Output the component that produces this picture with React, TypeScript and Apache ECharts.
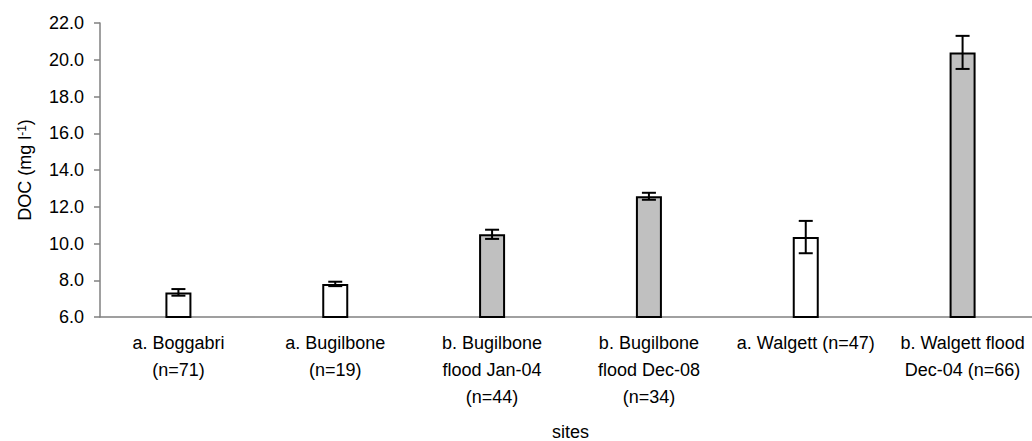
import React, { useEffect, useRef } from "react";
import * as echarts from "echarts";

const categories = [
  "a. Boggabri\n(n=71)",
  "a. Bugilbone\n(n=19)",
  "b. Bugilbone\nflood Jan-04\n(n=44)",
  "b. Bugilbone\nflood Dec-08\n(n=34)",
  "a. Walgett (n=47)",
  "b. Walgett flood\nDec-04 (n=66)",
];
const meanDOC = [7.34, 7.8, 10.5, 12.57, 10.35, 20.4];
const errDOC = [0.18, 0.12, 0.25, 0.19, 0.88, 0.9];
const isFlood = [false, false, true, true, false, true];

export default function App() {
  const ref = useRef<HTMLDivElement>(null);
  useEffect(() => {
    if (!ref.current) return;
    const chart = echarts.init(ref.current, undefined, { renderer: "svg" });
    const font = "'Liberation Sans', Arial, sans-serif";
    chart.setOption({
      animation: false,
      backgroundColor: "#ffffff",
      textStyle: { fontFamily: font, color: "#000" },
      grid: {
        left: 100,
        top: 23,
        width: 941,
        height: 294,
        containLabel: false,
        outerBoundsMode: "none",
      },
      xAxis: {
        type: "category",
        data: categories,
        name: "sites",
        nameLocation: "middle",
        nameGap: 106,
        nameTextStyle: { fontSize: 18, color: "#000", fontFamily: font },
        axisLine: { lineStyle: { color: "#808080", width: 1.5 } },
        axisTick: { length: 5, lineStyle: { color: "#808080", width: 1.5 } },
        axisLabel: {
          interval: 0,
          fontSize: 18,
          lineHeight: 27,
          margin: 12,
          color: "#000",
          fontFamily: font,
        },
      },
      yAxis: {
        type: "value",
        min: 6,
        max: 22,
        interval: 2,
        name: "DOC (mg l{sup|-1})",
        nameLocation: "middle",
        nameGap: 66,
        nameTextStyle: {
          fontSize: 18,
          color: "#000",
          fontFamily: font,
          rich: {
            sup: { fontSize: 12, verticalAlign: "top", color: "#000", fontFamily: font },
          },
        },
        splitLine: { show: false },
        axisLine: { show: true, lineStyle: { color: "#808080", width: 1.5 } },
        axisTick: { show: true, length: 6, lineStyle: { color: "#808080", width: 1.5 } },
        axisLabel: {
          fontSize: 18,
          margin: 16,
          color: "#000",
          fontFamily: font,
          formatter: (v: number) => v.toFixed(1),
        },
      },
      series: [
        {
          type: "bar",
          barWidth: 26,
          data: meanDOC.map((v, i) => ({
            value: v,
            itemStyle: {
              color: isFlood[i] ? "#c0c0c0" : "#ffffff",
              borderColor: "#000",
              borderWidth: 2,
            },
          })),
        },
        {
          type: "custom",
          data: meanDOC.map((v, i) => [i, v - errDOC[i], v + errDOC[i]]),
          renderItem: (params: any, api: any) => {
            const x = api.value(0);
            const lo = api.coord([x, api.value(1)]);
            const hi = api.coord([x, api.value(2)]);
            const hw = 7;
            const style = { stroke: "#000", lineWidth: 2 };
            return {
              type: "group",
              children: [
                { type: "line", shape: { x1: hi[0], y1: hi[1], x2: lo[0], y2: lo[1] }, style },
                { type: "line", shape: { x1: hi[0] - hw, y1: hi[1], x2: hi[0] + hw, y2: hi[1] }, style },
                { type: "line", shape: { x1: lo[0] - hw, y1: lo[1], x2: lo[0] + hw, y2: lo[1] }, style },
              ],
            };
          },
          z: 5,
        },
      ],
    });
    return () => chart.dispose();
  }, []);
  return (
    <div
      style={{
        position: "fixed",
        left: 0,
        top: 0,
        width: 1032,
        height: 441,
        overflow: "hidden",
        background: "#fff",
      }}
    >
      <div ref={ref} style={{ width: 1032, height: 441 }} />
    </div>
  );
}
